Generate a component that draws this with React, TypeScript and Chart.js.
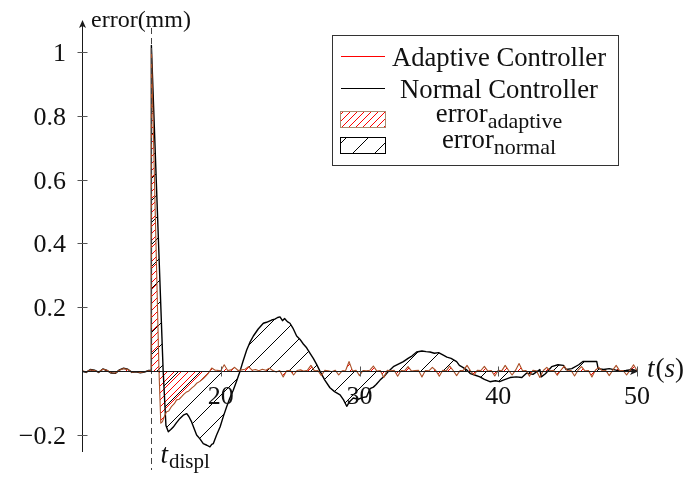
import React, { useEffect, useRef } from "react";
import { Chart, registerables } from "chart.js";

Chart.register(...registerables);

// ---------- data ----------
const normalT = [
  10.0, 10.3, 10.6, 10.9, 11.2, 11.5, 11.8, 12.1, 12.4, 12.7, 13.0, 13.3, 13.6, 13.9, 14.2, 14.5, 14.8, 14.98,
  15.0, 15.85, 16.05, 16.22, 16.4, 16.58, 16.8, 17.06, 17.3, 17.55, 17.7, 17.9, 18.1, 18.26, 18.5, 18.74,
  19.0, 19.22, 19.35, 19.46, 19.7, 19.95, 20.2, 20.42, 20.65, 20.9, 21.15, 21.39, 21.6, 21.87, 22.1, 22.35,
  22.7, 23.07, 23.3, 23.67, 23.9, 24.1, 24.27, 24.45, 24.6, 24.8, 24.99, 25.2, 25.47, 25.7, 25.95, 26.19,
  26.45, 26.67, 26.9, 27.15, 27.5, 27.87, 28.2, 28.6, 28.85, 29.08, 29.3, 29.55, 29.9, 30.2, 30.51, 30.76,
  31.0, 31.2, 31.48, 31.8, 32.1, 32.44, 32.8, 33.16, 33.5, 33.8, 34.12, 34.5, 34.8, 35.08, 35.4, 35.7,
  36.04, 36.3, 36.6, 37.0, 37.2, 37.45, 37.72, 38.0, 38.3, 38.68, 39.0, 39.4, 39.8, 40.1, 40.36, 40.85,
  41.3, 41.7, 42.05, 42.5, 43.0, 43.1, 43.4, 43.85, 44.3, 44.7, 44.9, 45.3, 45.8, 46.1, 46.7, 47.1,
  47.2, 47.6, 48.0, 48.4, 48.8, 49.2, 49.7, 50.0,
];
const normalY = [
  0.0, -0.004, 0.005, 0.003, -0.004, 0.007, 0.002, -0.006, -0.007, 0.004, 0.009, 0.006, -0.004, -0.002, -0.005, -0.003, 0.002, 0.003,
  1.02, 0.0, -0.17, -0.19, -0.183, -0.175, -0.162, -0.148, -0.138, -0.133, -0.142, -0.159, -0.182, -0.2, -0.212, -0.227,
  -0.232, -0.237, -0.229, -0.227, -0.2, -0.175, -0.14, -0.112, -0.085, -0.06, -0.03, 0.0, 0.03, 0.066, 0.09, 0.11,
  0.132, 0.15, 0.153, 0.16, 0.163, 0.168, 0.17, 0.158, 0.165, 0.155, 0.15, 0.135, 0.11, 0.1, 0.085, 0.073,
  0.055, 0.04, 0.022, 0.0, -0.028, -0.052, -0.064, -0.074, -0.09, -0.11, -0.095, -0.084, -0.088, -0.083, -0.08, -0.055,
  -0.05, -0.042, -0.028, -0.015, 0.0, 0.014, 0.022, 0.03, 0.04, 0.048, 0.06, 0.063, 0.061, 0.06, 0.056, 0.058,
  0.05, 0.044, 0.04, 0.03, 0.018, 0.012, 0.004, -0.008, -0.012, -0.018, -0.026, -0.033, -0.03, -0.033, -0.028, -0.02,
  -0.018, -0.02, -0.006, -0.01, 0.005, -0.018, -0.008, 0.014, 0.02, 0.018, 0.005, 0.008, 0.02, 0.03, 0.03, 0.03,
  0.008, 0.005, 0.008, 0.004, 0.0, 0.002, 0.005, 0.001,
];

const adaptiveT = [
  10.0, 10.3, 10.6, 10.9, 11.2, 11.5, 11.8, 12.1, 12.4, 12.7, 13.0, 13.3, 13.6, 13.9, 14.2, 14.5, 14.8, 14.98,
  15.0, 15.55, 15.68, 15.8, 15.95, 16.1, 16.25, 16.46, 16.65, 16.82, 17.0, 17.18, 17.35, 17.54, 17.7, 17.9,
  18.1, 18.26, 18.5, 18.74, 18.9, 19.1, 19.35, 19.6,
  19.75, 20.0, 20.25, 20.5, 20.75, 21.0, 21.25, 21.5, 21.75, 22.0, 22.25, 22.5, 22.75, 23.0, 23.25, 23.5,
  23.75, 24.0, 24.25, 24.5, 24.75, 25.0, 25.25, 25.5, 25.75, 26.0, 26.25, 26.5, 26.75, 27.0, 27.25, 27.5,
  27.75, 28.0, 28.25, 28.5, 28.75, 29.0, 29.25, 29.5, 29.75, 30.0, 30.25, 30.5, 30.75, 31.0, 31.25, 31.5,
  31.75, 32.0, 32.25, 32.5, 32.75, 33.0, 33.25, 33.5, 33.75, 34.0, 34.25, 34.5, 34.75, 35.0, 35.25, 35.5,
  35.75, 36.0, 36.25, 36.5, 36.75, 37.0, 37.25, 37.5, 37.75, 38.0, 38.25, 38.5, 38.75, 39.0, 39.25, 39.5,
  39.75, 40.0, 40.25, 40.5, 40.75, 41.0, 41.25, 41.5, 41.75, 42.0, 42.25, 42.5, 42.75, 43.0, 43.25, 43.5,
  43.75, 44.0, 44.25, 44.5, 44.75, 45.0, 45.25, 45.5, 45.75, 46.0, 46.25, 46.5, 46.75, 47.0, 47.25, 47.5,
  47.75, 48.0, 48.25, 48.5, 48.75, 49.0, 49.25, 49.5, 49.75, 50.0,
];
const adaptiveY = [
  0.002, -0.003, 0.004, 0.002, -0.003, 0.006, 0.003, -0.005, -0.006, 0.003, 0.008, 0.005, -0.003, -0.001, -0.004, -0.002, 0.001, 0.002,
  1.01, 0.0, -0.163, -0.158, -0.14, -0.127, -0.125, -0.11, -0.102, -0.09, -0.088, -0.08, -0.072, -0.065, -0.062, -0.053,
  -0.046, -0.038, -0.032, -0.023, -0.016, -0.007, 0.01, 0.003,
  0.003, 0.001, 0.02, 0.002, 0.004, 0.012, 0.002, 0.004, 0.006, 0.014, 0.003, 0.005, 0.001, 0.006, 0.003, 0.009,
  0.002, -0.003, 0.002, -0.018, 0.001, 0.003, -0.012, 0.002, 0.004, 0.0, 0.003, 0.018, 0.001, 0.002, -0.014, 0.003,
  0.001, -0.002, 0.003, -0.012, 0.001, 0.002, 0.03, 0.0, 0.003, -0.014, 0.002, 0.001, 0.003, 0.016, 0.0, 0.002,
  -0.02, 0.003, 0.001, 0.003, -0.016, 0.002, 0.001, 0.014, 0.0, 0.002, 0.003, -0.018, 0.002, 0.001, 0.012, 0.002,
  -0.016, 0.003, 0.001, 0.016, 0.002, -0.014, 0.002, 0.003, 0.018, 0.001, -0.012, 0.003, 0.002, 0.015, 0.0, 0.002,
  -0.015, 0.003, 0.001, 0.018, 0.002, -0.012, 0.003, 0.024, 0.001, 0.002, -0.016, 0.003, 0.001, -0.02, 0.002, 0.012,
  0.001, 0.003, -0.013, 0.002, 0.016, 0.001, 0.002, -0.015, 0.003, 0.014, 0.001, 0.002, -0.018, 0.003, 0.012, 0.001,
  0.002, -0.014, 0.003, 0.018, 0.001, 0.002, -0.012, 0.003, 0.02, 0.002,
];

const xTicks = [20, 30, 40, 50];
const xTickLabels = ["20", "30", "40", "50"];
const yTicks = [-0.2, 0.2, 0.4, 0.6, 0.8, 1];
const yTickLabels = ["\u22120.2", "0.2", "0.4", "0.6", "0.8", "1"];
const xMin = 10;
const xMax = 50;
const yMin = -0.25;
const yMax = 1.09;
const tDispl = 15;

const legendItems = ["Adaptive Controller", "Normal Controller"];
const fillLegend = [
  { main: "error", sub: "adaptive" },
  { main: "error", sub: "normal" },
];

const SERIF = "'Liberation Serif', 'Times New Roman', serif";

function makeHatch(ctx: CanvasRenderingContext2D, period: number, color: string, lw: number) {
  const c = document.createElement("canvas");
  c.width = period;
  c.height = period;
  const g = c.getContext("2d")!;
  g.strokeStyle = color;
  g.lineWidth = lw;
  g.beginPath();
  g.moveTo(-1, period + 1);
  g.lineTo(period + 1, -1);
  g.moveTo(-2, 2);
  g.lineTo(2, -2);
  g.moveTo(period - 2, period + 2);
  g.lineTo(period + 2, period - 2);
  g.stroke();
  return ctx.createPattern(c, "repeat")!;
}

export default function App() {
  const ref = useRef<HTMLCanvasElement | null>(null);

  useEffect(() => {
    const canvas = ref.current!;
    const ctx0 = canvas.getContext("2d")!;
    const redHatch = makeHatch(ctx0, 7, "#ff0000", 1);
    const blackHatch = makeHatch(ctx0, 22, "#000000", 1);

    const overlay = {
      id: "overlay",
      afterDatasetsDraw(chart: any) {
        const ctx: CanvasRenderingContext2D = chart.ctx;
        const xs = chart.scales.x;
        const ys = chart.scales.y;
        const y0 = Math.round(ys.getPixelForValue(0)) + 0.5;
        const xl = Math.round(xs.getPixelForValue(xMin)) + 0.5;
        const xr = xs.getPixelForValue(xMax);
        ctx.save();
        // dashed t_displ line
        const xd = Math.round(xs.getPixelForValue(tDispl)) + 0.5;
        ctx.strokeStyle = "#444";
        ctx.lineWidth = 1;
        ctx.setLineDash([6, 4]);
        ctx.beginPath();
        ctx.moveTo(xd, 28);
        ctx.lineTo(xd, 470);
        ctx.stroke();
        ctx.setLineDash([]);

        // axes
        ctx.strokeStyle = "#1a1a1a";
        ctx.fillStyle = "#1a1a1a";
        ctx.lineWidth = 1;
        ctx.beginPath();
        ctx.moveTo(xl, 452);
        ctx.lineTo(xl, 24);
        ctx.moveTo(xl, y0);
        ctx.lineTo(xr - 2, y0);
        ctx.stroke();
        // arrowheads
        ctx.beginPath();
        ctx.moveTo(xl, 20);
        ctx.lineTo(xl - 3.5, 28);
        ctx.lineTo(xl, 26);
        ctx.lineTo(xl + 3.5, 28);
        ctx.closePath();
        ctx.fill();
        ctx.beginPath();
        ctx.moveTo(xr + 1, y0);
        ctx.lineTo(xr - 7, y0 - 3.5);
        ctx.lineTo(xr - 5, y0);
        ctx.lineTo(xr - 7, y0 + 3.5);
        ctx.closePath();
        ctx.fill();

        // ticks
        ctx.strokeStyle = "#555";
        ctx.beginPath();
        yTicks.forEach((v) => {
          const py = Math.round(ys.getPixelForValue(v)) + 0.5;
          ctx.moveTo(xl - 5, py);
          ctx.lineTo(xl + 5, py);
        });
        xTicks.forEach((v) => {
          const px = Math.round(xs.getPixelForValue(v)) + 0.5;
          ctx.moveTo(px, y0 - 5);
          ctx.lineTo(px, y0 + 5);
        });
        ctx.stroke();
        ctx.restore();
      },
      afterDraw(chart: any) {
        const ctx: CanvasRenderingContext2D = chart.ctx;
        const xs = chart.scales.x;
        const ys = chart.scales.y;
        const y0 = ys.getPixelForValue(0);
        const xl = xs.getPixelForValue(xMin);
        const xr = xs.getPixelForValue(xMax);
        ctx.save();
        ctx.fillStyle = "#111";
        // y tick labels
        ctx.font = `26px ${SERIF}`;
        ctx.textAlign = "right";
        ctx.textBaseline = "alphabetic";
        yTicks.forEach((v, i) => {
          ctx.fillText(yTickLabels[i], xl - 16, ys.getPixelForValue(v) + 9);
        });
        // x tick labels
        ctx.textAlign = "center";
        xTicks.forEach((v, i) => {
          ctx.fillText(xTickLabels[i], xs.getPixelForValue(v), y0 + 33);
        });
        // axis labels
        ctx.textAlign = "left";
        ctx.font = `24px ${SERIF}`;
        ctx.fillText("error(mm)", xl + 9, 27);
        ctx.font = `italic 27px ${SERIF}`;
        ctx.fillText("t", xr + 10, y0 + 6);
        const tw = ctx.measureText("t").width;
        ctx.font = `27px ${SERIF}`;
        ctx.fillText("(", xr + 10 + tw + 1, y0 + 6);
        const pw = ctx.measureText("(").width;
        ctx.font = `italic 27px ${SERIF}`;
        ctx.fillText("s", xr + 11 + tw + pw, y0 + 6);
        const sw = ctx.measureText("s").width;
        ctx.font = `27px ${SERIF}`;
        ctx.fillText(")", xr + 11 + tw + pw + sw, y0 + 6);
        // t_displ label
        const xd = xs.getPixelForValue(tDispl);
        ctx.font = `italic 27px ${SERIF}`;
        ctx.fillText("t", xd + 9, 463);
        const t2 = ctx.measureText("t").width;
        ctx.font = `21px ${SERIF}`;
        ctx.fillText("displ", xd + 9 + t2 + 1, 468);

        // legend
        const lx = 332.5, ly = 35.5, lw = 286, lh = 130;
        ctx.fillStyle = "#fff";
        ctx.fillRect(lx, ly, lw, lh);
        ctx.strokeStyle = "#333";
        ctx.lineWidth = 1;
        ctx.strokeRect(lx, ly, lw, lh);
        const ds = chart.data.datasets;
        const cx = 499;
        // line entries
        const rows = [56.5, 88.5];
        const lineColors = ["#ff0000", "#000000"];
        legendItems.forEach((label, i) => {
          ctx.strokeStyle = lineColors[i];
          ctx.lineWidth = 1;
          ctx.beginPath();
          ctx.moveTo(341, rows[i]);
          ctx.lineTo(385, rows[i]);
          ctx.stroke();
          ctx.fillStyle = "#111";
          ctx.font = `26.7px ${SERIF}`;
          ctx.textAlign = "center";
          ctx.fillText(label, cx, rows[i] + 9);
        });
        // fill entries
        const boxes = [111.5, 137.5];
        const borders = ["#a88c70", "#000000"];
        const mainBase = [122, 148];
        const subBase = [128, 154];
        fillLegend.forEach((f, i) => {
          ctx.fillStyle = ds[i].backgroundColor;
          ctx.fillRect(340.5, boxes[i], 45, 16);
          ctx.strokeStyle = borders[i];
          ctx.lineWidth = 1;
          ctx.strokeRect(340.5, boxes[i], 45, 16);
          ctx.fillStyle = "#111";
          ctx.textAlign = "left";
          ctx.font = `26.7px ${SERIF}`;
          const mw = ctx.measureText(f.main).width;
          ctx.font = `22px ${SERIF}`;
          const sw2 = ctx.measureText(f.sub).width;
          const start = cx - (mw + sw2) / 2;
          ctx.font = `26.7px ${SERIF}`;
          ctx.fillText(f.main, start, mainBase[i]);
          ctx.font = `22px ${SERIF}`;
          ctx.fillText(f.sub, start + mw, subBase[i]);
        });
        ctx.restore();
      },
    };

    const chart = new Chart(canvas, {
      type: "line",
      data: {
        datasets: [
          {
            label: legendItems[0],
            data: adaptiveT.map((t, i) => ({ x: t, y: adaptiveY[i] })),
            borderColor: "rgb(170,80,40)",
            borderWidth: 1.1,
            backgroundColor: redHatch,
            fill: "origin",
            pointRadius: 0,
            tension: 0,
            borderJoinStyle: "round",
          },
          {
            label: legendItems[1],
            data: normalT.map((t, i) => ({ x: t, y: normalY[i] })),
            borderColor: "#000000",
            borderWidth: 1.4,
            backgroundColor: blackHatch,
            fill: "origin",
            pointRadius: 0,
            tension: 0,
            borderJoinStyle: "round",
          },
        ],
      },
      options: {
        responsive: false,
        animation: false,
        devicePixelRatio: 1,
        layout: { padding: { left: 82, right: 54, top: 23, bottom: 28 } },
        scales: {
          x: { type: "linear", min: xMin, max: xMax, display: false },
          y: { type: "linear", min: yMin, max: yMax, display: false },
        },
        plugins: {
          legend: { display: false },
          tooltip: { enabled: false },
          filler: { drawTime: "beforeDatasetsDraw" },
        },
      } as any,
      plugins: [overlay],
    });
    return () => chart.destroy();
  }, []);

  return (
    <div style={{ position: "fixed", left: 0, top: 0, width: 691, height: 479, background: "#fff" }}>
      <canvas ref={ref} width={691} height={479} style={{ display: "block" }} />
    </div>
  );
}
